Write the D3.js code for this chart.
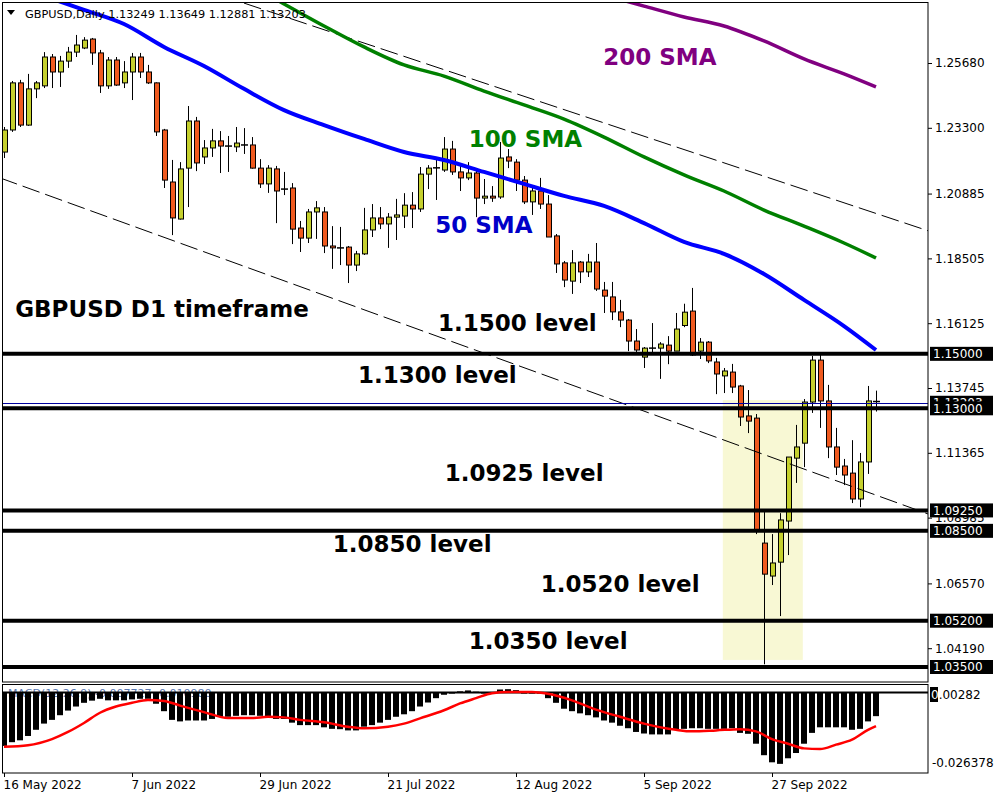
<!DOCTYPE html>
<meta charset="utf-8">
<style>
body { margin: 0; background: #fff; }
text { font-family: "DejaVu Sans", sans-serif; }
.axis text { font-size: 12px; fill: #000; }
.ann { font-weight: bold; font-size: 23px; }
</style>
<body>
<script src="https://cdn.jsdelivr.net/npm/d3@7"></script>
<script>

// GBPUSD daily bars, 16 May 2022 .. 14 Oct 2022 (one per trading day)
var open  = [1.2241,1.2322,1.2495,1.2340,1.2473,1.2484,1.2590,1.2535,1.2575,1.2608,
             1.2623,1.2656,1.2605,1.2484,1.2579,1.2495,1.2535,1.2590,1.2535,1.2495,
             1.2322,1.2131,1.1995,1.2182,1.2355,1.2223,1.2256,1.2282,1.2263,1.2260,
             1.2267,1.2267,1.2182,1.2124,1.2179,1.2105,1.2109,1.1962,1.1925,1.2021,
             1.2021,1.1896,1.1889,1.1892,1.1826,1.1867,1.1955,1.1999,1.1977,1.2002,
             1.2006,1.2046,1.2032,1.2160,1.2183,1.2175,1.2252,1.2168,1.2146,1.2164,
             1.2072,1.2079,1.2076,1.2223,1.2204,1.2138,1.2058,1.2098,1.2050,1.1933,
             1.1834,1.1767,1.1837,1.1801,1.1837,1.1734,1.1709,1.1654,1.1624,1.1547,
             1.1488,1.1521,1.1521,1.1532,1.1510,1.1604,1.1657,1.1510,1.1543,1.1470,
             1.1419,1.1433,1.1382,1.1272,1.1264,1.0805,1.0684,1.0735,1.0886,1.1117,
             1.1172,1.1323,1.1477,1.1327,1.1158,1.1088,1.1062,1.0967,1.1103,1.13249];
var high  = [1.2333,1.2502,1.2506,1.2528,1.2502,1.2608,1.2601,1.2594,1.2627,1.2671,
             1.2663,1.2660,1.2616,1.2590,1.2590,1.2575,1.2605,1.2605,1.2561,1.2497,
             1.2326,1.2212,1.2204,1.2410,1.2370,1.2285,1.2326,1.2318,1.2300,1.2333,
             1.2329,1.2296,1.2215,1.2193,1.2190,1.2168,1.2127,1.1988,1.2032,1.2061,
             1.2039,1.1969,1.1966,1.1896,1.1878,1.2036,1.2050,1.2039,1.2017,1.2069,
             1.2090,1.2094,1.2186,1.2193,1.2215,1.2296,1.2282,1.2193,1.2204,1.2179,
             1.2142,1.2116,1.2278,1.2252,1.2215,1.2153,1.2120,1.2146,1.2083,1.1940,
             1.1841,1.1881,1.1841,1.1867,1.1907,1.1764,1.1764,1.1698,1.1628,1.1591,
             1.1525,1.1613,1.1543,1.1565,1.1650,1.1684,1.1742,1.1558,1.1547,1.1485,
             1.1448,1.1463,1.1386,1.1367,1.1279,1.0919,1.0838,1.0915,1.1121,1.1239,
             1.1334,1.1492,1.1496,1.1386,1.1228,1.1114,1.1183,1.1136,1.1382,1.13649];
var low   = [1.2219,1.2315,1.2333,1.2337,1.2439,1.2476,1.2476,1.2480,1.2550,1.2590,
             1.2619,1.2561,1.2458,1.2473,1.2484,1.2476,1.2432,1.2513,1.2491,1.2300,
             1.2109,1.1936,1.1993,1.2039,1.2171,1.2197,1.2223,1.2164,1.2168,1.2241,
             1.2234,1.2180,1.2109,1.2091,1.1980,1.2083,1.1903,1.1874,1.1907,1.1922,
             1.1870,1.1812,1.1826,1.1760,1.1804,1.1863,1.1929,1.1958,1.1889,1.1918,
             1.1962,1.1962,1.2021,1.2105,1.2065,1.2168,1.2157,1.2098,1.2138,1.2002,
             1.2050,1.2058,1.2069,1.2182,1.2098,1.2050,1.2010,1.2032,1.1929,1.1797,
             1.1745,1.1720,1.1760,1.1782,1.1731,1.1650,1.1624,1.1598,1.1510,1.1500,
             1.1448,1.1496,1.1408,1.1462,1.1510,1.1598,1.1492,1.1481,1.1466,1.1352,
             1.1356,1.1356,1.1235,1.1209,1.0838,1.0360,1.0651,1.0537,1.0761,1.1026,
             1.1084,1.1283,1.1228,1.1117,1.1055,1.1018,1.0952,1.0937,1.1059,1.12881];
var close = [1.2322,1.2495,1.2340,1.2473,1.2495,1.2590,1.2535,1.2575,1.2608,1.2634,
             1.2652,1.2605,1.2484,1.2579,1.2487,1.2535,1.2590,1.2535,1.2495,1.2315,
             1.2138,1.1999,1.2179,1.2355,1.2201,1.2256,1.2282,1.2263,1.2260,1.2274,
             1.2266,1.2182,1.2124,1.2182,1.2098,1.2104,1.1958,1.1925,1.2021,1.2036,
             1.1896,1.1889,1.1888,1.1826,1.1867,1.1955,1.1999,1.1977,1.2002,1.2010,
             1.2046,1.2032,1.2160,1.2182,1.2181,1.2252,1.2168,1.2146,1.2164,1.2072,
             1.2079,1.2072,1.2219,1.2208,1.2138,1.2058,1.2098,1.2050,1.1929,1.1830,
             1.1771,1.1834,1.1801,1.1837,1.1738,1.1712,1.1654,1.1624,1.1547,1.1514,
             1.1521,1.1520,1.1536,1.1510,1.1591,1.1653,1.1496,1.1543,1.1474,1.1426,
             1.1437,1.1378,1.1268,1.1253,1.0853,1.0691,1.0732,1.0890,1.1121,1.1158,
             1.1323,1.1477,1.1327,1.1158,1.1084,1.1055,1.0967,1.1103,1.1327,1.13203];

// moving averages at some bars
var sma50Idx  = [5,10,15,20,25,30,35,40,45,50,55,60,65,70,75,80,85,90,95,100,105,109];
var sma50     = [1.2814,1.2763,1.2711,1.2627,1.2557,1.2473,1.2395,1.2340,1.2289,1.2241,1.2212,
                 1.2168,1.2124,1.2080,1.2043,1.1980,1.1911,1.1867,1.1793,1.1698,1.1602,1.1514];
var sma100Idx = [30,35,40,45,50,55,60,65,70,75,80,85,90,95,100,105,109];
var sma100    = [1.2868,1.2785,1.2704,1.2627,1.2561,1.2520,1.2465,1.2414,1.2362,1.2296,1.2223,
                 1.2157,1.2098,1.2028,1.1969,1.1907,1.1852];
var sma200Idx = [70,75,80,85,90,95,100,105,109];
var sma200    = [1.2858,1.2818,1.2777,1.2737,1.2704,1.2649,1.2583,1.2528,1.2480];

// trend channel (dashed)
var chanUpperIdx = [30, 115.5], chanUpper = [1.2788, 1.1952];
var chanLowerIdx = [-0.5, 115.5], chanLower = [1.2146, 1.0912];

// horizontal levels and current price
var levels = [1.15000, 1.13000, 1.09250, 1.08500, 1.05200, 1.03500];
var lastPrice = 1.13203;
var zoneIdx = [89.85, 99.85], zonePrice = [1.1330, 1.0376];

var priceTicks = [1.25680,1.23300,1.20885,1.18505,1.16125,1.13745,1.11365,1.08985,1.06570,1.04190];
var dateIdx    = [0,16,32,48,64,80,96];
var dateLabels = ["16 May 2022","7 Jun 2022","29 Jun 2022","21 Jul 2022","12 Aug 2022","5 Sep 2022","27 Sep 2022"];

// MACD(12,26,9) histogram per bar and signal line
var macd = [-0.01749,-0.01627,-0.01566,-0.01423,-0.01220,-0.01017,-0.00895,-0.00742,-0.00590,-0.00457,
            -0.00335,-0.00264,-0.00203,-0.00254,-0.00254,-0.00254,-0.00224,-0.00203,-0.00203,-0.00366,
            -0.00610,-0.00895,-0.00945,-0.00915,-0.00915,-0.00915,-0.00864,-0.00793,-0.00793,-0.00762,
            -0.00742,-0.00742,-0.00762,-0.00793,-0.00864,-0.00864,-0.00986,-0.01067,-0.01067,-0.01067,
            -0.01139,-0.01189,-0.01200,-0.01240,-0.01240,-0.01118,-0.01067,-0.00986,-0.00895,-0.00793,
            -0.00712,-0.00610,-0.00457,-0.00325,-0.00183,-0.00071,-0.00030,0.00041,0.00071,0.00030,
            0.00000,-0.00010,0.00102,0.00112,0.00081,0.00000,0.00000,-0.00010,-0.00183,-0.00335,
            -0.00529,-0.00610,-0.00681,-0.00742,-0.00813,-0.00915,-0.00986,-0.01088,-0.01169,-0.01291,
            -0.01342,-0.01372,-0.01372,-0.01372,-0.01200,-0.01189,-0.01169,-0.01169,-0.01189,-0.01189,
            -0.01189,-0.01169,-0.01322,-0.01352,-0.01677,-0.02054,-0.02287,-0.02338,-0.02155,-0.01982,
            -0.01677,-0.01322,-0.01139,-0.01139,-0.01139,-0.01139,-0.01220,-0.01189,-0.00945,-0.00773];
var signalIdx = [0,3,6,8,10,12,14,16,18,20,22,25,28,31,33,35,37,40,43,45,48,50,52,55,57,59,61,63,66,
                 68,71,74,77,80,84,86,89,92,94,96,98,100,102,104,106,108,109];
var signal    = [-0.01779,-0.01728,-0.01525,-0.01291,-0.00996,-0.00661,-0.00457,-0.00335,-0.00244,-0.00274,
                 -0.00427,-0.00640,-0.00834,-0.00834,-0.00793,-0.00813,-0.00895,-0.00976,-0.01118,-0.01169,
                 -0.01118,-0.01017,-0.00844,-0.00579,-0.00356,-0.00183,-0.00020,0.00020,0.00020,
                 -0.00041,-0.00254,-0.00559,-0.00793,-0.01017,-0.01220,-0.01271,-0.01240,-0.01200,-0.01271,
                 -0.01525,-0.01677,-0.01830,-0.01850,-0.01708,-0.01545,-0.01220,-0.01098];
var macdRange = [-0.026378, 0.00282];

// text notes: [text, bar index, price, colour]
var notes = [
  ["200 SMA", 74.9, 1.2561, "#800080"],
  ["100 SMA", 58.1, 1.2260, "#008000"],
  ["50 SMA", 53.9, 1.1944, "#0000c8"],
  ["GBPUSD D1 timeframe", 1.4, 1.1635, "#000"],
  ["1.1500 level", 54.25, 1.1584, "#000"],
  ["1.1300 level", 44.25, 1.1393, "#000"],
  ["1.0925 level", 55.1, 1.1033, "#000"],
  ["1.0850 level", 41.1, 1.0772, "#000"],
  ["1.0520 level", 67.1, 1.0625, "#000"],
  ["1.0350 level", 58.1, 1.0416, "#000"]
];

var bullColor = "#c5d02e", bearColor = "#ef5a1f";

var svg = d3.select("body").append("svg")
    .attr("width", 1000)
    .attr("height", 800);

var x = d3.scaleLinear().domain([0, 115.5]).range([4, 928]);
var y = d3.scaleLinear().domain([1.03500, 1.25680]).range([667, 63]);
var ym = d3.scaleLinear().domain(macdRange).range([773, 684]);

var defs = svg.append("defs");
defs.append("clipPath").attr("id", "clipMain")
  .append("rect").attr("x", 2).attr("y", 2).attr("width", 926).attr("height", 680);
defs.append("clipPath").attr("id", "clipMacd")
  .append("rect").attr("x", 2).attr("y", 684).attr("width", 926).attr("height", 89);

var main = svg.append("g").attr("clip-path", "url(#clipMain)");

// shaded zone
main.append("rect")
    .attr("x", x(zoneIdx[0]))
    .attr("y", y(zonePrice[0]))
    .attr("width", x(zoneIdx[1]) - x(zoneIdx[0]))
    .attr("height", y(zonePrice[1]) - y(zonePrice[0]))
    .attr("fill", "#f8f8d4");

// header
var hdr = svg.append("g");
hdr.append("path").attr("d", "M7,10 L15,10 L11,15 Z").attr("fill", "#000");
hdr.append("text").attr("x", 25).attr("y", 18)
    .style("font-size", "11.3px")
    .text("GBPUSD,Daily  1.13249 1.13649 1.12881 1.13203");

// candles
var bars = d3.range(open.length).map(function(i) {
  return {i: i, o: open[i], h: high[i], l: low[i], c: close[i]};
});
var cg = main.append("g");
cg.selectAll(".wick").data(bars).enter().append("line")
    .attr("x1", function(d) { return Math.round(x(d.i)) + 0.5; })
    .attr("x2", function(d) { return Math.round(x(d.i)) + 0.5; })
    .attr("y1", function(d) { return y(d.h); })
    .attr("y2", function(d) { return y(d.l); })
    .attr("stroke", "#000").attr("stroke-width", 1);
cg.selectAll(".body").data(bars.filter(function(d) { return Math.abs(y(d.o) - y(d.c)) >= 1.5; }))
  .enter().append("rect")
    .attr("x", function(d) { return Math.round(x(d.i)) - 2 + 0.5; })
    .attr("width", 5)
    .attr("y", function(d) { return Math.min(y(d.o), y(d.c)); })
    .attr("height", function(d) { return Math.abs(y(d.o) - y(d.c)); })
    .attr("fill", function(d) { return d.c >= d.o ? bullColor : bearColor; })
    .attr("stroke", "#000").attr("stroke-width", 1);
cg.selectAll(".doji").data(bars.filter(function(d) { return Math.abs(y(d.o) - y(d.c)) < 1.5; }))
  .enter().append("line")
    .attr("x1", function(d) { return Math.round(x(d.i)) - 3; })
    .attr("x2", function(d) { return Math.round(x(d.i)) + 4; })
    .attr("y1", function(d) { return y(d.o); })
    .attr("y2", function(d) { return y(d.o); })
    .attr("stroke", "#000").attr("stroke-width", 1.5);

// channel
function seg(idx, vals) { return idx.map(function(d, k) { return [x(d), y(vals[k])]; }); }
[[chanUpperIdx, chanUpper], [chanLowerIdx, chanLower]].forEach(function(c) {
  main.append("path")
      .attr("d", d3.line()(seg(c[0], c[1])))
      .attr("fill", "none").attr("stroke", "#000").attr("stroke-width", 1)
      .attr("stroke-dasharray", "18,6");
});

// moving averages
var smaLine = d3.line().curve(d3.curveMonotoneX);
[[sma200Idx, sma200, "#800080", 3.5], [sma100Idx, sma100, "#008000", 3.5], [sma50Idx, sma50, "#0000ff", 4]]
  .forEach(function(s) {
    main.append("path")
        .attr("d", smaLine(seg(s[0], s[1])))
        .attr("fill", "none").attr("stroke", s[2]).attr("stroke-width", s[3]);
  });

// current price line
main.append("line")
    .attr("x1", 2).attr("x2", 928)
    .attr("y1", Math.round(y(lastPrice)) + 0.5).attr("y2", Math.round(y(lastPrice)) + 0.5)
    .attr("stroke", "#0000a0").attr("stroke-width", 1);

// level lines
main.selectAll(".lvl").data(levels).enter().append("line")
    .attr("x1", 2).attr("x2", 928)
    .attr("y1", function(d) { return y(d); })
    .attr("y2", function(d) { return y(d); })
    .attr("stroke", "#000").attr("stroke-width", 4);

// notes
svg.selectAll(".ann").data(notes).enter().append("text")
    .attr("class", "ann")
    .attr("x", function(d) { return x(d[1]); })
    .attr("y", function(d) { return y(d[2]); })
    .attr("fill", function(d) { return d[3]; })
    .text(function(d) { return d[0]; });

// price axis
var ax = svg.append("g").attr("class", "axis")
    .attr("transform", "translate(928,0)")
    .call(d3.axisRight(y).tickValues(priceTicks).tickSize(4).tickPadding(3)
          .tickFormat(d3.format(".5f")));
ax.select(".domain").remove();

// boxed price labels
function boxLabel(v, txt) {
  var g = svg.append("g").attr("transform", "translate(930," + y(v) + ")");
  g.append("rect").attr("x", 0).attr("y", -7).attr("width", 63).attr("height", 14).attr("fill", "#000");
  g.append("text").attr("x", 3).attr("y", 0).attr("dy", "0.36em")
      .style("font-size", "12px").attr("fill", "#fff").text(txt);
}
boxLabel(lastPrice, d3.format(".5f")(lastPrice));
levels.forEach(function(v) { boxLabel(v, d3.format(".5f")(v)); });

// MACD pane
var mg = svg.append("g").attr("clip-path", "url(#clipMacd)");
mg.append("text").attr("x", 8).attr("y", 697)
    .style("font-size", "11px").attr("fill", "#5a78b0")
    .text("MACD(12,26,9) -0.007727 -0.010980");
mg.selectAll(".hist").data(macd).enter().append("rect")
    .attr("x", function(d, i) { return Math.round(x(i)) - 3; })
    .attr("width", 6)
    .attr("y", function(d) { return Math.min(ym(d), ym(0)); })
    .attr("height", function(d) { return Math.max(1, Math.abs(ym(d) - ym(0))); })
    .attr("fill", "#000");
mg.append("line")
    .attr("x1", 2).attr("x2", 928).attr("y1", ym(0)).attr("y2", ym(0))
    .attr("stroke", "#000").attr("stroke-width", 2);
mg.append("path")
    .attr("d", d3.line().curve(d3.curveMonotoneX)(signalIdx.map(function(d, k) { return [x(d), ym(signal[k])]; })))
    .attr("fill", "none").attr("stroke", "#ff0000").attr("stroke-width", 2.5);

// MACD scale labels
var ml = svg.append("g").style("font-size", "12px");
ml.append("rect").attr("x", 930).attr("y", ym(macdRange[1]) + 3).attr("width", 8).attr("height", 15).attr("fill", "#000");
ml.append("text").attr("x", 931).attr("y", ym(macdRange[1]) + 10.5).attr("dy", "0.36em")
  .html('<tspan fill="#fff">0</tspan>.00282');
ml.append("text").attr("x", 932).attr("y", ym(macdRange[0]) - 10).attr("dy", "0.36em")
  .text("-0.026378");

// pane frames
svg.append("rect").attr("x", 2.5).attr("y", 2.5).attr("width", 925.5).attr("height", 679.5)
    .attr("fill", "none").attr("stroke", "#000");
svg.append("rect").attr("x", 2.5).attr("y", 684.5).attr("width", 925.5).attr("height", 88.5)
    .attr("fill", "none").attr("stroke", "#000");

// time axis
var tx = svg.append("g").attr("class", "axis")
    .attr("transform", "translate(0,773)")
    .call(d3.axisBottom(x).tickValues(dateIdx).tickSize(4).tickPadding(3)
          .tickFormat(function(d, k) { return dateLabels[k]; }));
tx.select(".domain").remove();
tx.selectAll("text").attr("text-anchor", "start").attr("x", -1);

</script>
</body>
